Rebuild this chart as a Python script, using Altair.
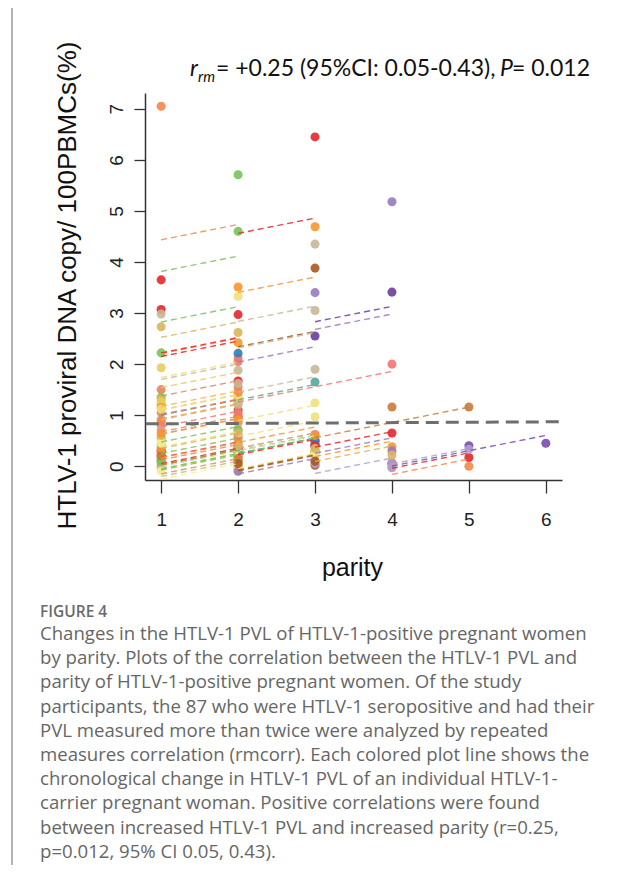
import altair as alt
import pandas as pd

# ---------------- data ----------------
# parities and PVL values of each HTLV-1-positive woman
PARITY = [
    [1, 2], [1, 2], [1, 2], [2, 3], [2, 3], [1, 2], [1, 2], [1, 2], [1, 2], [1, 2],
    [1, 2], [1, 2], [1, 2], [1, 2], [2, 3], [2, 3], [2, 3], [2, 3], [3, 4], [3, 4],
    [2, 3], [2, 3], [2, 3], [2, 3], [2, 3, 4], [3, 4, 5], [4, 5, 6], [4, 5], [4, 5], [4, 5],
    [3, 4], [3, 4], [3, 4], [3, 4], [2, 3], [3, 4], [1, 2, 3], [1, 2], [1, 2], [1, 2],
    [1, 2], [1, 2], [1, 2], [1, 2], [1, 2], [1, 2], [1, 2], [1, 2], [1, 2], [1, 2],
    [1, 2], [1, 2], [1, 2], [1, 2], [1, 2], [2, 3], [2, 3], [2, 3], [2, 3], [2, 3],
    [1, 2, 3], [1, 2, 3], [1, 2, 3], [1, 2], [1, 2], [1, 2], [1, 2], [1, 2], [1, 2], [2, 3],
    [2, 3],
]
PVL = [
    [7.05, 2.12], [2.22, 5.71], [1.35, 4.60], [2.97, 6.45], [2.42, 4.69], [1.20, 3.51], [3.07, 1.67], [3.65, 0.95], [2.98, 0.72], [2.73, 2.62],
    [1.93, 1.45], [1.50, 1.55], [0.45, 3.33], [0.10, 2.21], [1.62, 4.35], [1.10, 3.88], [0.98, 3.40], [1.88, 3.05], [2.55, 3.41], [0.48, 5.18],
    [1.30, 1.90], [1.25, 1.65], [0.85, 1.24], [0.50, 0.97], [2.05, 0.62, 2.00], [0.25, 1.16, 1.16], [0.06, 0.40, 0.45], [0.05, 0.17], [-0.02, 0.00], [0.06, 0.33],
    [0.40, 0.65], [0.30, 0.38], [0.51, 0.30], [0.27, 0.22], [0.10, 0.02], [0.05, -0.03], [0.30, 0.20, 0.41], [1.30, 1.35], [1.25, 1.25], [1.15, 1.00],
    [0.92, 1.20], [0.80, 1.05], [0.72, 0.85], [0.55, 0.70], [0.50, 0.55], [0.40, 0.40], [0.30, 0.35], [0.25, 0.30], [0.20, 0.20], [0.15, 0.05],
    [0.05, 0.10], [0.00, 0.00], [-0.05, -0.05], [-0.10, -0.10], [0.10, 0.25], [0.55, 0.45], [0.30, 0.50], [0.35, 0.40], [0.00, 0.20], [-0.10, 0.10],
    [0.35, 0.45, 0.60], [0.15, 0.30, 0.30], [0.45, 0.20, 0.25], [0.60, 0.40], [0.65, 0.90], [0.20, 0.15], [1.05, 0.60], [1.12, 1.40], [0.88, 1.45], [0.65, 0.35],
    [0.05, 0.10],
]
SLOPE = 0.30                      # common within-subject slope of the rmcorr fit
OVERALL_X = [0.80, 6.20]          # grey dashed overall line
OVERALL_Y = [0.83, 0.87]

X_TICKS = [1, 2, 3, 4, 5, 6]
Y_TICKS = [0, 1, 2, 3, 4, 5, 6, 7]

# ---------------- styles ----------------
PAL = {
    "OR": "#F4874B", "RD": "#E3262A", "GR": "#79C35A", "GD": "#D9B560", "TG": "#C8B797",
    "YL": "#EEE07B", "YG": "#E6CD5F", "LY": "#F6F09A", "BR": "#A85A20", "BO": "#C97B3A",
    "PU": "#9A78BF", "DP": "#6C3C9F", "BL": "#2C7DBB", "TL": "#56A999", "PK": "#F27676",
    "OB": "#F7962E", "SA": "#DE8A5C", "LV": "#B49DCD", "MV": "#D2A3A8", "OY": "#F7B84A",
    "DQ": "#7B4BAF",
}
COLOR_KEYS = [
    "OR", "GR", "GR", "RD", "OB", "OB", "RD", "RD", "TG", "GD",
    "YG", "SA", "YL", "BL", "TG", "BR", "PU", "TG", "DP", "PU",
    "TG", "TL", "YL", "YL", "PK", "BO", "DQ", "RD", "OR", "LV",
    "RD", "OB", "PU", "GD", "BR", "LV", "BL", "OY", "YG", "OB",
    "TG", "PK", "MV", "GR", "YL", "GR", "RD", "OR", "RD", "YL",
    "GR", "OR", "TG", "LY", "GR", "LV", "BL", "RD", "YL", "PU",
    "OB", "GR", "LY", "GD", "OB", "BO", "SA", "YL", "OR", "GD",
    "BR",
]

rows = []
pids = []
for i, (xs, ys) in enumerate(zip(PARITY, PVL)):
    pid = f"p{i:02d}"
    pids.append(pid)
    for x, y in zip(xs, ys):
        rows.append({"pid": pid, "parity": x, "pvl": y})
df = pd.DataFrame(rows)
colors = [PAL[k] for k in COLOR_KEYS]

overall = pd.DataFrame({"parity": OVERALL_X, "pvl": OVERALL_Y})

W, H = 417, 387
xscale = alt.Scale(domain=[0.79, 6.21], nice=False, zero=False)
yscale = alt.Scale(domain=[-0.27, 7.31], nice=False, zero=False)
cscale = alt.Scale(domain=pids, range=colors)

AX_FONT = "Liberation Sans"
xaxis = alt.Axis(values=X_TICKS, format="d", title="parity", grid=False,
                 tickSize=13, tickWidth=1.3, tickColor="#333", domainColor="#333",
                 domainWidth=1.5, labelFont=AX_FONT, labelFontSize=19, labelColor="#222",
                 labelPadding=26, labelBaseline="middle", labelFlush=False,
                 titleFont=AX_FONT, titleFontSize=25, titleFontWeight="normal",
                 titleColor="#111", titleX=207, titleY=87, titleBaseline="middle",
                 titleAlign="center")
yaxis = alt.Axis(values=Y_TICKS, format="d",
                 title="HTLV-1 proviral DNA copy/ 100PBMCs(%)", grid=False,
                 tickSize=11, tickWidth=1.3, tickColor="#333", domainColor="#333",
                 domainWidth=1.5, labelFont=AX_FONT, labelFontSize=19, labelColor="#222",
                 labelPadding=18, labelAngle=270, labelAlign="center",
                 labelBaseline="middle", labelFlush=False,
                 titleFont=AX_FONT, titleFontSize=26, titleFontWeight="normal",
                 titleColor="#111", titleAngle=270, titleX=-78, titleY=192,
                 titleAlign="center", titleBaseline="middle")

X = alt.X("parity:Q", scale=xscale, axis=xaxis)

base = alt.Chart(df)

points = base.mark_circle(size=82, opacity=0.9).encode(
    x=X,
    y=alt.Y("pvl:Q", scale=yscale, axis=yaxis),
    color=alt.Color("pid:N", scale=cscale, legend=None),
)

lines = base.transform_joinaggregate(
    mx="mean(parity)", my="mean(pvl)", groupby=["pid"]
).transform_calculate(
    fit=f"datum.my + {SLOPE} * (datum.parity - datum.mx)"
).mark_line(strokeDash=[6, 4], strokeWidth=1.4, opacity=0.85).encode(
    x=X,
    y=alt.Y("fit:Q", scale=yscale, axis=yaxis),
    color=alt.Color("pid:N", scale=cscale, legend=None),
    detail="pid:N",
)

grey = alt.Chart(overall).mark_line(color="#6e6e6e", strokeWidth=3, strokeDash=[13, 7]).encode(
    x=X,
    y=alt.Y("pvl:Q", scale=yscale, axis=yaxis),
)

one = pd.DataFrame({"a": [0]})


def txt(text, x, y, size, font="Lato", style="normal", weight="normal", color="#111",
        baseline="alphabetic", align="left", line_height=None):
    kw = dict(text=text, font=font, fontSize=size, fontStyle=style, fontWeight=weight,
              color=color, baseline=baseline, align=align)
    if line_height is not None:
        kw["lineHeight"] = line_height
    return alt.Chart(one).mark_text(**kw).encode(x=alt.value(x), y=alt.value(y))


ANN = 23
ann = [
    txt("r", 45, -17, ANN, style="italic"),
    txt("rm", 53, -11, 15, style="italic"),
    txt("= +0.25 (95%CI: 0.05-0.43), ", 71, -17, ANN),
    txt("P", 355, -17, ANN, style="italic"),
    txt("= 0.012", 367, -17, ANN),
]

CAPTION = [
    "Changes in the HTLV-1 PVL of HTLV-1-positive pregnant women",
    "by parity. Plots of the correlation between the HTLV-1 PVL and",
    "parity of HTLV-1-positive pregnant women. Of the study",
    "participants, the 87 who were HTLV-1 seropositive and had their",
    "PVL measured more than twice were analyzed by repeated",
    "measures correlation (rmcorr). Each colored plot line shows the",
    "chronological change in HTLV-1 PVL of an individual HTLV-1-",
    "carrier pregnant woman. Positive correlations were found",
    "between increased HTLV-1 PVL and increased parity (r=0.25,",
    "p=0.012, 95% CI 0.05, 0.43).",
]
cap = [
    txt("FIGURE 4", -105, 519, 15.5, font="Open Sans", weight=600, color="#6a6a6a",
        baseline="middle"),
    txt(CAPTION, -105, 532, 18.6, font="Open Sans", color="#666666", baseline="top",
        line_height=24.2),
]

border = alt.Chart(one).mark_rule(color="#9a9a9a", strokeWidth=1.5).encode(
    x=alt.value(-133), y=alt.value(-85), y2=alt.value(772)
)

chart = alt.layer(points, lines, grey, border, *ann, *cap).properties(
    width=W, height=H,
    autosize=alt.AutoSizeParams(type="none"),
    padding={"left": 137, "top": 85, "right": 53, "bottom": 393},
).configure_view(stroke=None)

chart.save("out.html", embed_options={"renderer": "svg", "actions": False})
